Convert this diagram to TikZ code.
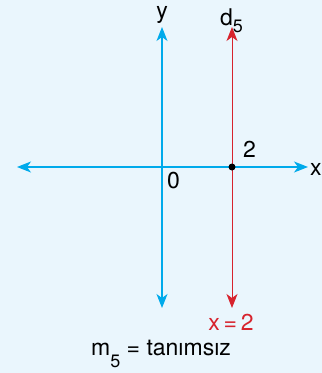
\documentclass[tikz,border=0pt]{standalone}
\usepackage{fontspec}
\setmainfont{TeX Gyre Heros}
\usetikzlibrary{arrows.meta}
\definecolor{bgblue}{RGB}{234,246,253}
\definecolor{axisblue}{RGB}{0,170,235}
\definecolor{linered}{RGB}{215,35,45}
\newcommand{\lowsub}[2]{\raisebox{-#1}{\fontsize{18}{18}\selectfont #2}}
\begin{document}
\begin{tikzpicture}[
    x=1pt, y=-1pt,
    >={Stealth[length=14pt, width=11pt, inset=4pt]},
    axisline/.style={<->, draw=axisblue, line width=1.1pt},
    redline/.style={<->, draw=linered, line width=1pt},
    lbl/.style={font=\fontsize{23}{26}\selectfont, inner sep=0pt, anchor=base},
]
\fill[bgblue] (0,0) rectangle (322,373);
\useasboundingbox (0,0) rectangle (322,373);
% === Coordinate axes ===
\coordinate (origin) at (162,167);
\coordinate (yTop) at (162,27);
\coordinate (yBot) at (162,308);
\coordinate (xLeft) at (17,167);
\coordinate (xRight) at (308,167);
\draw[axisline] (yBot) -- (yTop);
\draw[axisline] (xLeft) -- (xRight);
\node[lbl] (yLbl) at (162,18) {y};
\node[lbl, anchor=base west] (xLbl) at (310,175) {x};
\node[lbl, anchor=base west] (zeroLbl) at (167,188) {0};
% === Line d5 through x = 2 ===
\coordinate (dTop) at (232,27);
\coordinate (dBot) at (232,308);
\draw[redline] (dBot) -- (dTop);
\node[circle, fill=black, inner sep=0pt, minimum size=7pt] (P) at (232,167) {};
\node[lbl, anchor=base west] (twoLbl) at (243,157) {2};
\node[lbl, anchor=base west] (dLbl) at (220,25) {d\lowsub{7pt}{5}};
\node[lbl, text=linered] (eqLbl) at (231,330) {x\,=\,2};
% === Slope ===
\node[lbl] (slopeLbl) at (161,355) {m\lowsub{12pt}{5} = tanımsız};
\end{tikzpicture}
\end{document}
